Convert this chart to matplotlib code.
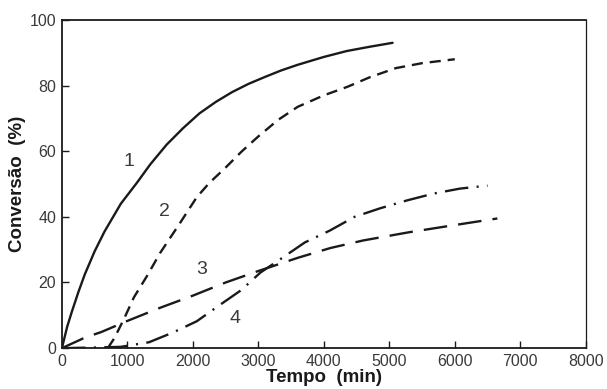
import matplotlib
matplotlib.use("Agg")
import matplotlib.pyplot as plt

plt.rcParams['font.family'] = ['Liberation Sans', 'DejaVu Sans']
plt.rcParams['lines.scale_dashes'] = False

# curve 1 (solid)
t1 = [0, 80, 150, 250, 350, 500, 650, 900, 1150, 1350, 1600, 1850, 2100, 2350,
      2600, 2850, 3100, 3350, 3600, 4000, 4350, 4700, 5050]
c1 = [0, 6.5, 11, 17, 22.5, 29.5, 35.5, 44, 50.5, 56, 62, 67, 71.5, 75,
      78, 80.5, 82.6, 84.6, 86.3, 88.7, 90.5, 91.8, 93]

# curve 2 (dashed)
t2 = [700, 800, 950, 1100, 1300, 1500, 1800, 2060, 2250, 2500, 2740, 3000,
      3300, 3600, 4000, 4360, 4700, 5100, 5500, 6000]
c2 = [0, 3, 9, 15.5, 22, 29, 38, 46, 50.3, 55, 59.8, 64.5,
      69.5, 73.5, 77, 79.6, 82.5, 85.3, 86.8, 88]

# curve 3 (long dash)
t3 = [0, 350, 600, 1000, 1500, 2000, 2500, 3000, 3600, 4100, 4600, 5300, 6000, 6650]
c3 = [0, 3.2, 4.9, 8.3, 12.3, 16, 20, 23.5, 27.5, 30.5, 32.8, 35.3, 37.5, 39.5]

# curve 4 (dash-dot)
t4 = [0, 500, 900, 1330, 1700, 2060, 2400, 2740, 3030, 3380, 3710, 4090,
      4470, 4860, 5270, 5680, 6080, 6500]
c4 = [0, 0.2, 0.4, 1.8, 4.8, 8.2, 13, 17.7, 23, 27.7, 32.2, 35.8,
      40, 42.6, 45, 47.1, 48.6, 49.5]

labels = ["1", "2", "3", "4"]
label_x = [1030, 1560, 2140, 2650]
label_y = [57, 41.5, 24, 9]

xticks = [0, 1000, 2000, 3000, 4000, 5000, 6000, 7000, 8000]
yticks = [0, 20, 40, 60, 80, 100]

ink = '#1a1a1a'
grey = '#3a3a3a'

fig = plt.figure(figsize=(6.07, 3.89), dpi=100)
ax = fig.add_axes([0.102, 0.105, 0.863, 0.844])

ax.plot(t1, c1, color=ink, lw=1.7, solid_capstyle='round')
ax.plot(t2, c2, color=ink, lw=1.7, linestyle=(0, (8, 5)))
ax.plot(t3, c3, color=ink, lw=1.7, linestyle=(0, (17, 8)))
ax.plot(t4, c4, color=ink, lw=1.7, linestyle=(0, (17, 6, 1.5, 6)))

for lab, x, y in zip(labels, label_x, label_y):
    ax.text(x, y, lab, fontsize=14, color=grey, ha='center', va='center')

ax.set_xlim(0, 8000)
ax.set_ylim(0, 100)
ax.set_xticks(xticks)
ax.set_yticks(yticks)
ax.tick_params(direction='in', length=5, width=1, colors=ink, labelcolor=grey,
               labelsize=11.5, pad=4)
for s in ax.spines.values():
    s.set_linewidth(1.3)
    s.set_color(ink)
ax.spines['right'].set_linewidth(0.9)

ax.set_xlabel('Tempo  (min)', fontsize=13.5, fontweight='bold', color=ink, labelpad=0)
ax.set_ylabel('Conversão  (%)', fontsize=13.5, fontweight='bold', color=ink, labelpad=3)

fig.savefig('out.png', dpi=100)
